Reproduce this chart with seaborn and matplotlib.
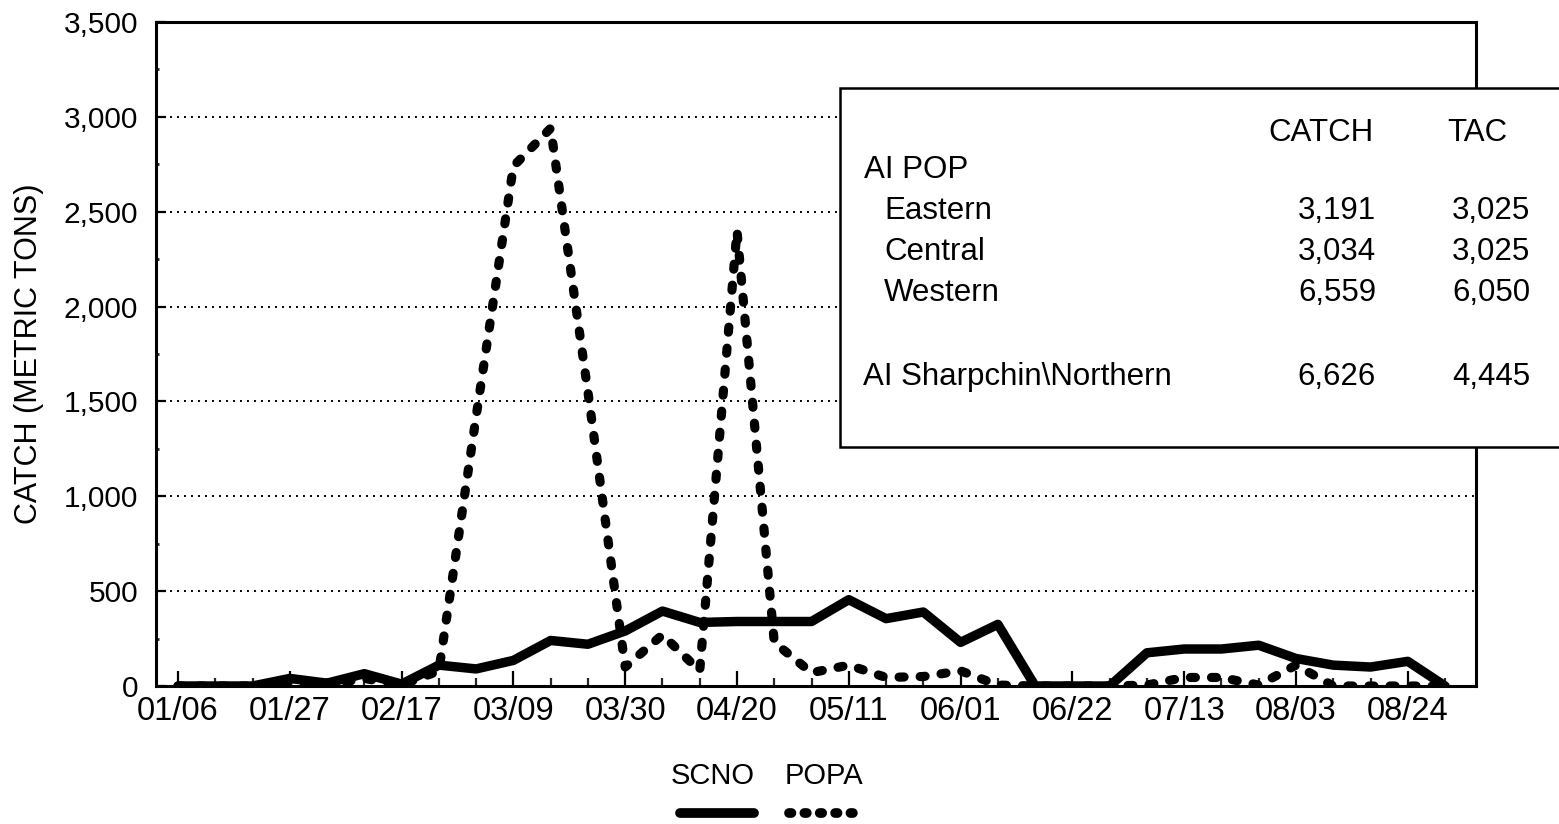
import numpy as np
import pandas as pd
import matplotlib
matplotlib.use("Agg")
import matplotlib.pyplot as plt
import seaborn as sns
from matplotlib.lines import Line2D
from matplotlib.patches import Rectangle
from matplotlib.ticker import FuncFormatter, MultipleLocator

# ---------------- data ----------------
week_labels = ["01/06", "01/13", "01/20", "01/27", "02/03", "02/10", "02/17", "02/24",
               "03/02", "03/09", "03/16", "03/23", "03/30", "04/06", "04/13", "04/20",
               "04/27", "05/04", "05/11", "05/18", "05/25", "06/01", "06/08", "06/15",
               "06/22", "06/29", "07/06", "07/13", "07/20", "07/27", "08/03", "08/10",
               "08/17", "08/24", "08/31"]
scno = [0, 0, 0, 40, 15, 65, 10, 110, 90, 135, 240, 220, 290, 395, 335, 340, 340, 340,
        455, 355, 390, 230, 325, 0, 0, 0, 175, 195, 195, 215, 145, 110, 100, 130, 0]
popa = [0, 0, 0, 20, 5, 40, 5, 80, 1420, 2740, 2940, 1550, 100, 270, 80, 2400, 230, 70,
        110, 45, 50, 80, 5, 0, 0, 0, 5, 45, 45, 5, 110, 0, 0, 0, 0]
series_names = ["SCNO", "POPA"]

table_header = ["CATCH", "TAC"]
table_group = "AI POP"
table_rows = ["Eastern", "Central", "Western"]
table_catch = ["3,191", "3,034", "6,559"]
table_tac = ["3,025", "3,025", "6,050"]
table_extra_row = "AI Sharpchin\\Northern"
table_extra_catch = "6,626"
table_extra_tac = "4,445"

y_label = "CATCH (METRIC TONS)"

# ---------------- style ----------------
sns.set_theme(style="white")
plt.rcParams["font.family"] = ["Liberation Sans", "DejaVu Sans"]

W, H = 1559, 824
fig = plt.figure(figsize=(W / 100, H / 100), dpi=100)
fig.patch.set_facecolor("white")

def fx(px):
    return px / W

def fy(py):
    return 1 - py / H

ax = fig.add_axes([fx(156), fy(686), (1476 - 156) / W, (686 - 22) / H])

df = pd.DataFrame({"week": np.arange(len(week_labels)), "SCNO": scno, "POPA": popa})

sns.lineplot(data=df, x="week", y="SCNO", ax=ax, color="black", lw=6.8,
             solid_capstyle="round", solid_joinstyle="round", zorder=3)
sns.lineplot(data=df, x="week", y="POPA", ax=ax, color="black", lw=6.6,
             linestyle=(0, (0.55, 1.75)), dash_capstyle="round", zorder=4)

# axes limits / ticks
ax.set_xlim(-0.59, 34.83)
ax.set_ylim(0, 3500)
ax.set_xticks(list(range(0, len(week_labels), 3)))
ax.set_xticklabels([week_labels[i] for i in range(0, len(week_labels), 3)])
ax.xaxis.set_minor_locator(MultipleLocator(1))
ax.set_yticks(np.arange(0, 3501, 500))
ax.yaxis.set_major_formatter(FuncFormatter(lambda v, p: f"{int(v):,}"))
ax.yaxis.set_minor_locator(MultipleLocator(250))

ax.tick_params(axis="x", which="major", direction="in", length=11, width=1.6,
               labelsize=23.5, pad=7, colors="black", bottom=True)
ax.tick_params(axis="x", which="minor", direction="in", length=6, width=1.6, bottom=True)
ax.tick_params(axis="y", which="major", direction="in", length=7, width=1.6,
               labelsize=21.5, pad=13, colors="black", left=True)
ax.tick_params(axis="y", which="minor", direction="in", length=2.5, width=2, left=True)

ax.set_xlabel("")
ax.set_ylabel(y_label, fontsize=22, color="black")
ax.yaxis.label.set_va("bottom")
ax.yaxis.set_label_coords((44 - 156) / 1320, 0.5)

ax.yaxis.grid(True, which="major", linestyle=(0, (1, 2.6)), color="black", lw=1.4)
ax.xaxis.grid(False)
ax.set_axisbelow(True)

for s in ax.spines.values():
    s.set_color("black")
    s.set_linewidth(2.2)
    s.set_visible(True)

# ---------------- summary table box ----------------
box = Rectangle((fx(840), fy(447)), fx(1620) - fx(840), (447 - 88) / H,
                transform=fig.transFigure, facecolor="white", edgecolor="black",
                lw=1.8, clip_on=False, zorder=5)
fig.add_artist(box)

tfs = 22.5
def ftxt(px, py, s, ha="left"):
    fig.text(fx(px), fy(py), s, ha=ha, va="baseline", fontsize=tfs,
             color="black", zorder=6)

ftxt(1374, 141, table_header[0], ha="right")
ftxt(1447, 141, table_header[1], ha="left")
ftxt(864, 178, table_group)
row_base = [219, 260, 301]
for name, c, t, yb in zip(table_rows, table_catch, table_tac, row_base):
    ftxt(884, yb, name)
    ftxt(1376, yb, c, ha="right")
    ftxt(1530, yb, t, ha="right")
ftxt(863, 385, table_extra_row)
ftxt(1376, 385, table_extra_catch, ha="right")
ftxt(1530, 385, table_extra_tac, ha="right")

# ---------------- legend (text above line samples) ----------------
fig.text(fx(713), fy(784), series_names[0], ha="center", va="baseline",
         fontsize=21, color="black")
fig.text(fx(824), fy(784), series_names[1], ha="center", va="baseline",
         fontsize=21, color="black")
fig.add_artist(Line2D([fx(680), fx(754)], [fy(813), fy(813)], transform=fig.transFigure,
                      color="black", lw=7, solid_capstyle="round"))
fig.add_artist(Line2D([fx(789), fx(863)], [fy(813), fy(813)], transform=fig.transFigure,
                      color="black", lw=7, linestyle=(0, (0.25, 1.33)),
                      dash_capstyle="round"))

fig.savefig("out.png", dpi=100, facecolor="white")
